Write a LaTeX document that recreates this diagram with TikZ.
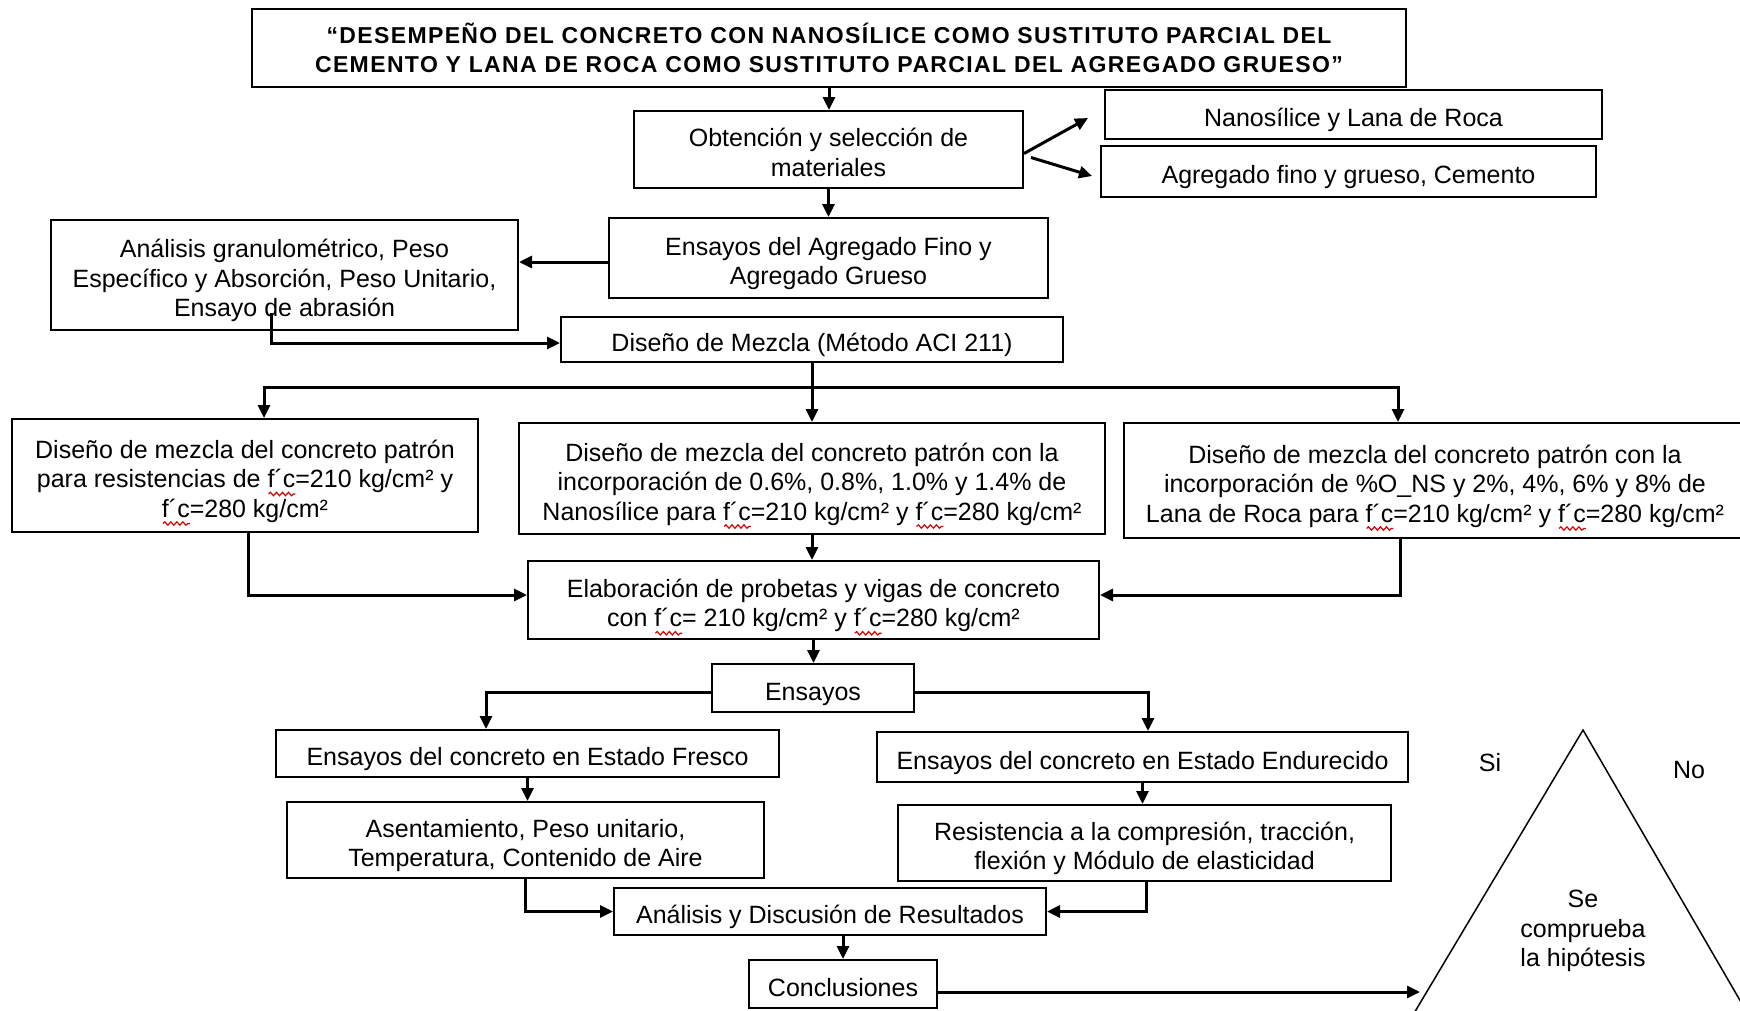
\documentclass[tikz,border=0pt]{standalone}
\usepackage{fontspec}
\setmainfont{Liberation Sans}
\newfontfamily\titlefont[LetterSpace=6]{Liberation Sans}
\usetikzlibrary{arrows.meta,calc,decorations.pathmorphing}
\newsavebox\sqbox
\newlength\sqlen
\newcommand\sq[1]{\sbox\sqbox{#1}\setlength\sqlen{\wd\sqbox}\rlap{\tikz[baseline=0pt,x=1pt,y=1pt]{\path (0,0); \draw[overlay,red!85!black,line width=1.2pt,decorate,decoration={snake,amplitude=1.7pt,segment length=6pt}] (1,-6.5) -- (\sqlen,-6.5);}}\usebox\sqbox}
\newcommand\T{\rule{0pt}{30pt}}
\newcommand\B{\rule[-6pt]{0pt}{6pt}}
\begin{document}
\begin{tikzpicture}[x=1pt,y=-1pt,
  txt/.style={font=\fontsize{25}{29.5}\selectfont},
  box/.style={draw, line width=2pt, inner sep=0pt, align=center, txt},
  ttl/.style={font=\titlefont\bfseries\fontsize{23}{29}\selectfont},
  wire/.style={line width=3pt},
  conn/.style={wire, -{Triangle[length=13pt,width=12pt]}}]
\useasboundingbox (0,0) rectangle (1740,1010);
\fill[white] (0,0) rectangle (1740,1010);

\node[box,ttl,minimum width=1154pt,minimum height=78pt] (title) at (829,48)
  {“DESEMPEÑO DEL CONCRETO CON NANOSÍLICE COMO SUSTITUTO PARCIAL DEL\\CEMENTO Y LANA DE ROCA COMO SUSTITUTO PARCIAL DEL AGREGADO GRUESO”};
\node[box,minimum width=389pt,minimum height=77pt] (obt) at (828.5,149.5) {\T Obtención y selección de\\materiales\B};
\node[box,minimum width=497pt,minimum height=49pt] (nano) at (1353.5,114.5) {\T Nanosílice y Lana de Roca\B};
\node[box,minimum width=495pt,minimum height=51pt] (agr) at (1348.5,171.5) {\T Agregado fino y grueso, Cemento\B};
\node[box,minimum width=439pt,minimum height=80pt] (ensag) at (828.5,258) {\T Ensayos del Agregado Fino y\\Agregado Grueso\B};
\node[box,minimum width=467pt,minimum height=110pt] (anal) at (284.5,275) {\T Análisis granulométrico, Peso\\Específico y Absorción, Peso Unitario,\\Ensayo de abrasión\B};
\node[box,minimum width=502pt,minimum height=45pt] (dmez) at (812,339.5) {\T Diseño de Mezcla (Método ACI 211)\B};
\node[box,minimum width=466pt,minimum height=113pt] (dl) at (245,475.5) {\T Diseño de mezcla del concreto patrón\\para resistencias de \sq{f´c}=210 kg/cm² y\\\sq{f´c}=280 kg/cm²\B};
\node[box,minimum width=586pt,minimum height=111pt] (dm) at (812,478.5) {\T Diseño de mezcla del concreto patrón con la\\incorporación de 0.6\%, 0.8\%, 1.0\% y 1.4\% de\\Nanosílice para \sq{f´c}=210 kg/cm² y \sq{f´c}=280 kg/cm²\B};
\node[box,minimum width=622pt,minimum height=115pt] (dr) at (1435,480.5) {\T Diseño de mezcla del concreto patrón con la\\incorporación de \%O\_NS y 2\%, 4\%, 6\% y 8\% de\\Lana de Roca para \sq{f´c}=210 kg/cm² y \sq{f´c}=280 kg/cm²\B};
\node[box,minimum width=571pt,minimum height=78pt] (elab) at (813.5,600) {\T Elaboración de probetas y vigas de concreto\\con \sq{f´c}= 210 kg/cm² y \sq{f´c}=280 kg/cm²\B};
\node[box,minimum width=202pt,minimum height=48pt] (ens) at (813,688) {\T Ensayos\B};
\node[box,minimum width=503pt,minimum height=47pt] (fres) at (527.5,753.5) {\T Ensayos del concreto en Estado Fresco\B};
\node[box,minimum width=531pt,minimum height=50pt] (endu) at (1142.5,757) {\T Ensayos del concreto en Estado Endurecido\B};
\node[box,minimum width=477pt,minimum height=76pt] (asen) at (525.5,840) {\T Asentamiento, Peso unitario,\\Temperatura, Contenido de Aire\B};
\node[box,minimum width=493pt,minimum height=76pt] (resi) at (1144.5,843) {\T Resistencia a la compresión, tracción,\\flexión y Módulo de elasticidad\B};
\node[box,minimum width=432pt,minimum height=47pt] (adis) at (830,911.5) {\T Análisis y Discusión de Resultados\B};
\node[box,minimum width=188pt,minimum height=48pt] (conc) at (843,984) {\T Conclusiones\B};

% triangle
\draw[line width=1.5pt, line join=miter] (1398,1040) -- (1583,730) -- (1763,1040);
\node[txt] (si) at (1490,763) {Si};
\node[txt] (no) at (1689,770) {No};
\node[align=center,font=\fontsize{25}{29.5}\selectfont] (hyp) at (1583,931) {Se\\comprueba\\la hipótesis};

% connectors
\draw[conn] (title.south) -- (title.south |- obt.north);
\coordinate (n1) at (1088,118);
\coordinate (g1) at (1092,176);
\draw[conn] ([yshift=-4pt]obt.east) -- (n1);
\draw[conn] ([xshift=7pt,yshift=-8pt]obt.east) -- (g1);
\draw[conn] (obt.south) -- (obt.south |- ensag.north);
\draw[conn] ([yshift=-4pt]ensag.west) -- ([yshift=-4pt]ensag.west -| anal.east);
\coordinate (a1) at (271,313);
\draw[conn] (a1) |- ([yshift=-3.5pt]dmez.west);
\draw[conn] (dmez.south) -- (dmez.south |- dm.north);
\coordinate (bl) at (264,387);
\coordinate (br) at (1398,387);
\draw[wire,line cap=rect] (bl) -- (br);
\draw[conn] (bl) -- (bl |- dl.north);
\draw[conn] (br) -- (br |- dr.north);
\draw[conn] (dm.south) -- (dm.south |- elab.north);
\draw[conn] ([xshift=3pt]dl.south) |- ([yshift=5pt]elab.west);
\draw[conn] ([xshift=-35pt]dr.south) |- ([yshift=5pt]elab.east);
\draw[conn] (elab.south) -- (elab.south |- ens.north);
\draw[conn] ([yshift=-4pt]ens.west) -| ([xshift=-41.5pt]fres.north);
\draw[conn] ([yshift=-4pt]ens.east) -| ([xshift=5.5pt]endu.north);
\draw[conn] (fres.south) -- (fres.south |- asen.north);
\draw[conn] (endu.south) -- (endu.south |- resi.north);
\draw[conn] (asen.south) |- (adis.west);
\draw[conn] ([xshift=1.5pt]resi.south) |- (adis.east);
\draw[conn] (conc.north |- adis.south) -- (conc.north);
\coordinate (tri) at (1420,992);
\draw[conn] ([yshift=-8pt]conc.east) -- (tri);
\end{tikzpicture}
\end{document}
